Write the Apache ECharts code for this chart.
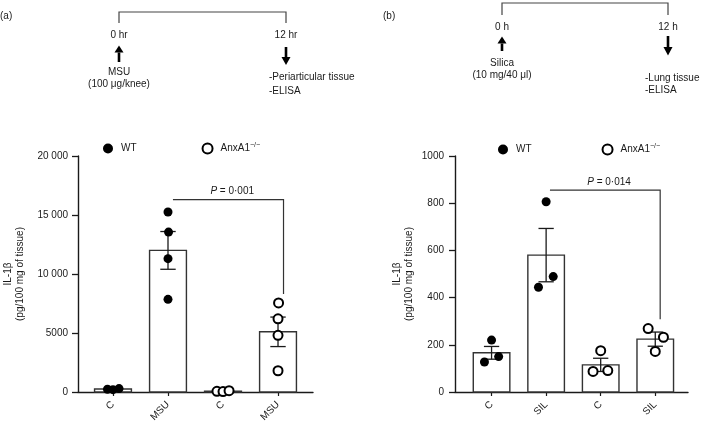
<!DOCTYPE html>
<html>
<head>
<meta charset="utf-8">
<script src="https://cdn.jsdelivr.net/npm/echarts@6/dist/echarts.min.js"></script>
<style>html,body{margin:0;padding:0;background:#fff}#main{width:709px;height:426px}</style>
</head>
<body>
<div id="main"></div>
<script>
// panel (a) : MSU knee model
var catA = ['C', 'MSU', 'C', 'MSU'];
var meanA = [250, 12000, 70, 5100];
var semA = [40, 1600, 20, 1250];
var wtA = [[230, 200, 290], [15250, 13550, 11300, 7850]];
var wtJitA = [[-0.1, 0, 0.11], [0, 0.01, 0, 0]];
var koA = [[60, 40, 110], [7550, 6200, 4800, 1800]];
var koJitA = [[-0.11, 0, 0.11], [0.01, 0, 0, 0]];
var sigA = [1.09, 3.1, 16300, 8300];   // from, to, top, bottom

// panel (b) : silica lung model
var catB = ['C', 'SIL', 'C', 'SIL'];
var meanB = [166, 580, 115, 224];
var semB = [27, 113, 28, 30];
var wtB = [[220, 127, 150], [806, 489, 444]];
var wtJitB = [[0, -0.13, 0.13], [0, 0.13, -0.14]];
var koB = [[175, 87, 91], [269, 232, 172]];
var koJitB = [[0, -0.14, 0.13], [-0.13, 0.15, 0]];
var sigB = [1.07, 3.09, 855, 308];

var INK = '#1a1a1a';
var FONT = '"Liberation Sans", Arial, Helvetica, sans-serif';

function barData(mean, sem) {
  var d = [];
  for (var i = 0; i < mean.length; i++) d.push([i, mean[i], sem[i]]);
  return d;
}
// wt groups -> categories 0,1 ; ko groups -> categories 2,3
function pts(vals, jit, base) {
  var d = [];
  for (var g = 0; g < vals.length; g++) {
    for (var k = 0; k < vals[g].length; k++) d.push([base + g + jit[g][k], vals[g][k]]);
  }
  return d;
}

function renderBar(params, api) {
  var x = api.value(0), m = api.value(1), s = api.value(2);
  var unit = api.size([1, 0])[0];
  var w = unit * 0.67, cap = unit * 0.14;
  var p0 = api.coord([x, 0]), p1 = api.coord([x, m]);
  var t = api.coord([x, m + s]), b = api.coord([x, Math.max(m - s, 0)]);
  return {
    type: 'group',
    children: [
      {type: 'rect', shape: {x: p0[0] - w / 2, y: p1[1], width: w, height: p0[1] - p1[1]},
        style: {fill: '#fff', stroke: '#333', lineWidth: 1.4}},
      {type: 'line', shape: {x1: p1[0], y1: t[1], x2: p1[0], y2: b[1]}, style: {stroke: INK, lineWidth: 1.3}},
      {type: 'line', shape: {x1: p1[0] - cap, y1: t[1], x2: p1[0] + cap, y2: t[1]}, style: {stroke: INK, lineWidth: 1.3}},
      {type: 'line', shape: {x1: p1[0] - cap, y1: b[1], x2: p1[0] + cap, y2: b[1]}, style: {stroke: INK, lineWidth: 1.3}}
    ]
  };
}

function sigSeries(sig, txt, xi) {
  return {
    type: 'custom', xAxisIndex: xi, yAxisIndex: xi, z: 4, silent: true,
    data: [sig],
    renderItem: function (params, api) {
      var a = api.coord([api.value(0), api.value(2)]);
      var b = api.coord([api.value(1), api.value(2)]);
      var c = api.coord([api.value(1), api.value(3)]);
      return {
        type: 'group',
        children: [
          {type: 'polyline', shape: {points: [a, b, c]}, style: {stroke: '#333', lineWidth: 1.2, fill: null}},
          {type: 'text', x: (a[0] + b[0]) / 2 + 4, y: a[1] - 3,
            style: {text: '{i|P} = ' + txt, font: '10px ' + FONT, fill: INK, align: 'center', verticalAlign: 'bottom',
              rich: {i: {fontStyle: 'italic', fontSize: 10, fontFamily: FONT}}}}
        ]
      };
    }
  };
}

function xAxisOf(cats, min, max, gi) {
  return {
    type: 'value', gridIndex: gi, min: min, max: max,
    axisLine: {show: true, onZero: false, lineStyle: {color: INK, width: 1.4}},
    axisTick: {show: true, customValues: [0, 1, 2, 3], length: 4, lineStyle: {color: INK, width: 1.2}},
    splitLine: {show: false},
    axisLabel: {customValues: [0, 1, 2, 3], rotate: 45, margin: 11, fontSize: 10, color: INK, fontFamily: FONT,
      formatter: function (v) { return cats[Math.round(v)]; }}
  };
}
function yAxisOf(max, step, gi, gap, margin) {
  return {
    type: 'value', gridIndex: gi, min: 0, max: max, interval: step,
    name: 'IL-1β\n(pg/100 mg of tissue)', nameLocation: 'middle', nameGap: gap,
    nameTextStyle: {fontSize: 10, color: INK, fontFamily: FONT, lineHeight: 12, align: 'center'},
    axisLine: {show: true, onZero: false, lineStyle: {color: INK, width: 1.4}},
    axisTick: {show: true, length: 6, lineStyle: {color: INK, width: 1.3}},
    splitLine: {show: false},
    axisLabel: {margin: margin, fontSize: 10, color: INK, fontFamily: FONT,
      formatter: function (v) {
        return v >= 10000 ? Math.floor(v / 1000) + ' ' + String(v % 1000 + 1000).slice(1) : String(v);
      }}
  };
}

function scatterOf(name, data, xi, hollow) {
  return {
    name: name, type: 'scatter', xAxisIndex: xi, yAxisIndex: xi, z: 5,
    symbol: 'circle', symbolSize: 9,
    itemStyle: hollow ? {color: '#fff', borderColor: '#000', borderWidth: 2, opacity: 1}
                      : {color: '#000', opacity: 1},
    data: data
  };
}

function legendOf(left, top, gap) {
  return {
    left: left, top: top, itemWidth: 10, itemHeight: 10, itemGap: gap, icon: 'circle',
    data: ['WT', 'AnxA1'], selectedMode: false,
    textStyle: {fontSize: 10, color: INK, fontFamily: FONT, padding: [0, 0, 0, 3],
      rich: {sup: {fontSize: 7, fontFamily: FONT, color: INK, padding: [0, 0, 6, 0]}}},
    formatter: function (n) { return n === 'AnxA1' ? 'AnxA1{sup|−/−}' : n; }
  };
}

function txt(x, y, s, align) {
  return {type: 'text', x: x, y: y, style: {text: s, font: '10px ' + FONT, fill: INK, align: align || 'center', verticalAlign: 'middle'}};
}
function bracket(x1, x2, yTop, yBot) {
  return {type: 'polyline', shape: {points: [[x1, yBot], [x1, yTop], [x2, yTop], [x2, yBot]]}, style: {stroke: '#444', lineWidth: 1.2, fill: null}};
}
function arrow(x, tail, base, tip) {
  return [
    {type: 'line', shape: {x1: x, y1: tail, x2: x, y2: base}, style: {stroke: '#000', lineWidth: 2.6}},
    {type: 'polygon', shape: {points: [[x - 4.5, base], [x + 4.5, base], [x, tip]]}, style: {fill: '#000'}}
  ];
}

var graphics = [
  txt(0, 16, '(a)', 'left'),
  bracket(119, 286, 12, 23),
  txt(119, 35, '0 hr'),
  txt(119, 72, 'MSU'),
  txt(119, 84, '(100 μg/knee)'),
  txt(286, 35, '12 hr'),
  txt(269, 77, '-Periarticular tissue', 'left'),
  txt(269, 91, '-ELISA', 'left'),
  txt(383, 16, '(b)', 'left'),
  bracket(502, 668, 3, 15),
  txt(502, 27, '0 h'),
  txt(502, 63, 'Silica'),
  txt(502, 75, '(10 mg/40 μl)'),
  txt(668, 27, '12 h'),
  txt(645, 78, '-Lung tissue', 'left'),
  txt(645, 90, '-ELISA', 'left')
].concat(arrow(119, 62, 52.5, 45.5), arrow(286, 47, 57, 65), arrow(502, 51, 43.5, 36.5), arrow(668, 36, 47, 55.5));

var myChart = echarts.init(document.getElementById('main'), null, {renderer: 'canvas'});
var option = {
  animation: false,
  backgroundColor: '#fff',
  textStyle: {fontFamily: FONT},
  graphic: graphics,
  legend: [legendOf(98, 137, 65), legendOf(493, 138, 70)],
  grid: [
    {left: 78, width: 235, top: 156, height: 236},
    {left: 455, width: 233, top: 156, height: 236}
  ],
  xAxis: [xAxisOf(catA, -0.636, 3.636, 0), xAxisOf(catB, -0.67, 3.6, 1)],
  yAxis: [yAxisOf(20000, 5000, 0, 52, 10), yAxisOf(1000, 200, 1, 40, 11)],
  series: [
    {type: 'custom', xAxisIndex: 0, yAxisIndex: 0, z: 2, silent: true, renderItem: renderBar, data: barData(meanA, semA)},
    {type: 'custom', xAxisIndex: 1, yAxisIndex: 1, z: 2, silent: true, renderItem: renderBar, data: barData(meanB, semB)},
    sigSeries(sigA, '0·001', 0),
    sigSeries(sigB, '0·014', 1),
    scatterOf('WT', pts(wtA, wtJitA, 0), 0, false),
    scatterOf('AnxA1', pts(koA, koJitA, 2), 0, true),
    scatterOf('WT', pts(wtB, wtJitB, 0), 1, false),
    scatterOf('AnxA1', pts(koB, koJitB, 2), 1, true)
  ]
};
myChart.setOption(option);
</script>
</body>
</html>
